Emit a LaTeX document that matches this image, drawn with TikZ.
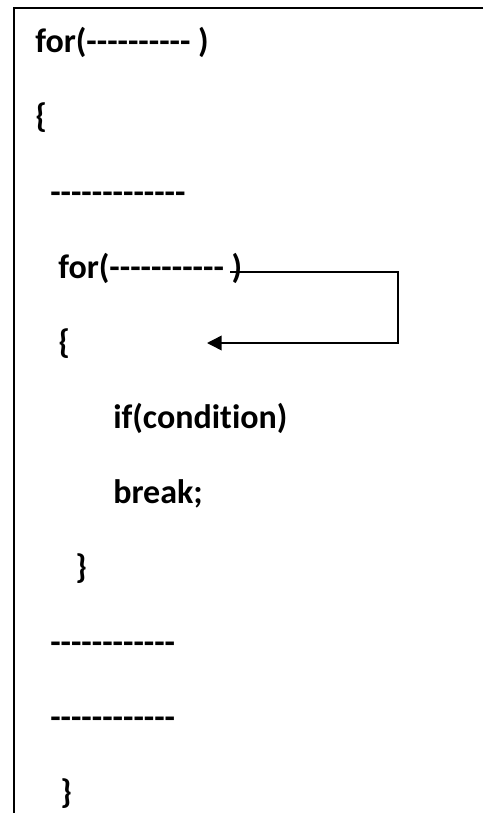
\documentclass[tikz,border=0pt]{standalone}
\usepackage{fontspec}
\newfontfamily\codefont{Carlito}[Ligatures={NoCommon,NoContextual}]
\usetikzlibrary{arrows.meta}
\tikzset{codeline/.style={anchor=base west,inner sep=0pt,font=\codefont\bfseries\fontsize{25.5pt}{30pt}\selectfont}}
\begin{document}
\begin{tikzpicture}[x=0.75pt,y=-0.75pt]
		\useasboundingbox (0,0) rectangle (483,813);
		\draw[line width=1.5pt](483,8)--(14,8)--(14,813);
		\node[codeline] (outerfor) at (35,53) {for(---------- )};
		\node[codeline] (outeropen) at (35,128) {\{};
		\node[codeline] (stmtA) at (50,203) {-------------};
		\node[codeline] (innerfor) at (58,278) {for(----------- )};
		\node[codeline] (inneropen) at (58,353) {\{};
		\node[codeline] (ifcond) at (113,428) {if(condit\kern0pt ion)};
		\node[codeline] (brk) at (113,503) {break;};
		\node[codeline] (innerclose) at (75,578) {\}};
		\node[codeline] (stmtB) at (50,653) {------------};
		\node[codeline] (stmtC) at (50,728) {------------};
		\node[codeline] (outerclose) at (60,803) {\}};
		\coordinate (loopstart) at (230,272);
		\coordinate (loopend) at (207,343);
		\draw[line width=1.1pt,-{Triangle[length=11pt,width=11pt]}](loopstart)--++(168,0)|-(loopend);
	    \end{tikzpicture}
\end{document}
